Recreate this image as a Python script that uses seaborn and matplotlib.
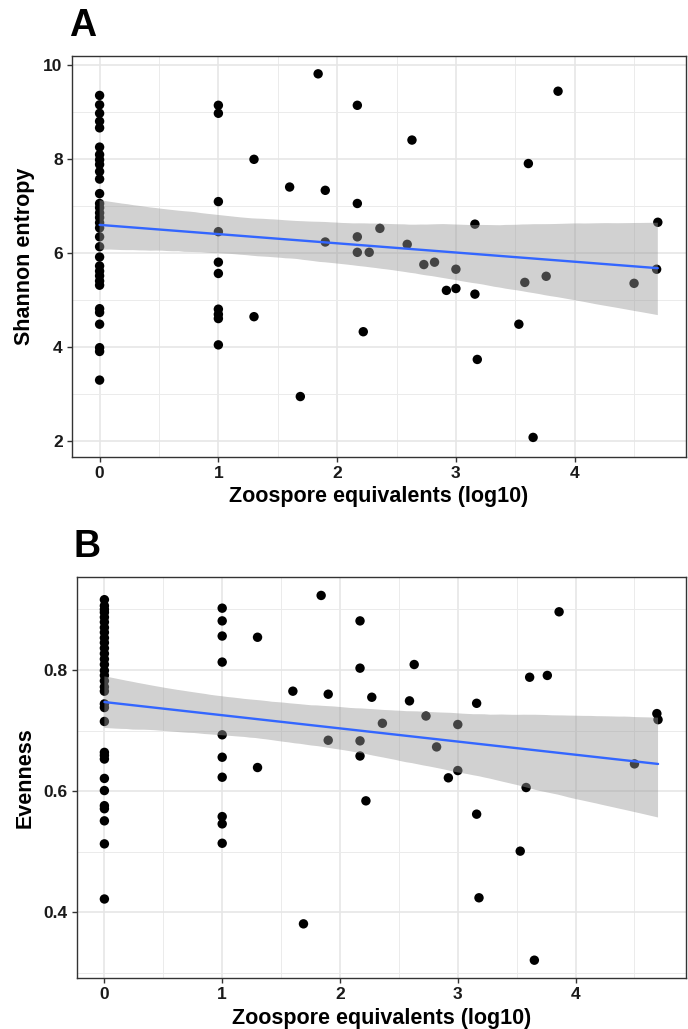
import numpy as np
import pandas as pd
import matplotlib
matplotlib.use("Agg")
import matplotlib.pyplot as plt
import seaborn as sns
from matplotlib.ticker import MultipleLocator, FormatStrFormatter

# ---------------- data ----------------
x_zero = [0.0] * 32
shannon_zero = [9.35, 9.15, 8.97, 8.80, 8.66, 8.25, 8.09, 7.98, 7.88, 7.73, 7.57,
                7.26, 7.05, 6.96, 6.85, 6.75, 6.64, 6.53, 6.34, 6.13, 5.91, 5.72,
                5.61, 5.51, 5.40, 5.31, 4.81, 4.73, 4.48, 3.98, 3.90, 3.29]
even_zero = [0.916, 0.906, 0.900, 0.895, 0.887, 0.879, 0.870, 0.862, 0.853, 0.845,
             0.836, 0.827, 0.818, 0.809, 0.799, 0.791, 0.782, 0.772, 0.765, 0.744,
             0.738, 0.715, 0.664, 0.659, 0.653, 0.621, 0.601, 0.576, 0.571, 0.551,
             0.513, 0.422]

x_pos = [1.00, 1.00, 1.00, 1.00, 1.00, 1.00, 1.00, 1.00, 1.00, 1.00,
         1.30, 1.30, 1.60, 1.69, 1.84, 1.90, 1.90, 2.17, 2.17, 2.17, 2.17,
         2.22, 2.27, 2.36, 2.59, 2.63, 2.73, 2.82, 2.92, 3.00, 3.00,
         3.16, 3.16, 3.18, 3.53, 3.58, 3.61, 3.65, 3.76, 3.86, 4.50, 4.69, 4.70]
shannon_pos = [9.14, 8.97, 7.09, 6.45, 5.80, 5.56, 4.80, 4.69, 4.60, 4.04,
               7.99, 4.64, 7.40, 2.94, 9.81, 7.33, 6.23, 9.14, 7.05, 6.34, 6.01,
               4.32, 6.01, 6.52, 6.18, 8.40, 5.75, 5.80, 5.20, 5.65, 5.24,
               6.61, 5.12, 3.73, 4.48, 5.37, 7.90, 2.07, 5.50, 9.44, 5.35, 5.65, 6.65]
even_pos = [0.902, 0.881, 0.856, 0.813, 0.693, 0.656, 0.623, 0.558, 0.546, 0.514,
            0.854, 0.639, 0.765, 0.381, 0.923, 0.760, 0.684, 0.881, 0.803, 0.683, 0.658,
            0.584, 0.755, 0.712, 0.749, 0.809, 0.724, 0.673, 0.622, 0.710, 0.634,
            0.745, 0.562, 0.424, 0.501, 0.606, 0.788, 0.321, 0.791, 0.896, 0.645, 0.728, 0.718]

df = pd.DataFrame({
    "zoospore": x_zero + x_pos,
    "shannon": shannon_zero + shannon_pos,
    "evenness": even_zero + even_pos,
})

x_label = "Zoospore equivalents (log10)"
panel_letters = ["A", "B"]
y_labels = ["Shannon entropy", "Evenness"]

# ---------------- style ----------------
sns.set_theme(style="white")
fam = ["Liberation Sans Narrow", "Liberation Sans", "DejaVu Sans"]
plt.rcParams["font.family"] = fam
plt.rcParams["font.weight"] = "bold"

fig = plt.figure(figsize=(6.88, 10.29), dpi=100)
axA = fig.add_axes([0.1042, 0.5562, 0.8925, 0.3894])
axB = fig.add_axes([0.1115, 0.0492, 0.8852, 0.3898])

def style_axis(ax, major_y, minor_y):
    ax.set_xlim(-0.235, 4.935)
    ax.xaxis.set_major_locator(MultipleLocator(1))
    ax.xaxis.set_minor_locator(MultipleLocator(0.5))
    ax.yaxis.set_major_locator(MultipleLocator(major_y))
    ax.yaxis.set_minor_locator(MultipleLocator(minor_y))
    ax.grid(True, which="major", color="#E6E6E6", linewidth=1.2, zorder=0)
    ax.grid(True, which="minor", color="#EBEBEB", linewidth=0.7, zorder=0)
    ax.set_axisbelow(True)
    for sp in ax.spines.values():
        sp.set_color("#333333")
        sp.set_linewidth(1.0)
    ax.tick_params(axis="both", which="major", length=3.5, width=1.0, color="#333333",
                   labelsize=12.5, labelcolor="#1a1a1a", pad=3, bottom=True, left=True)
    ax.tick_params(axis="both", which="minor", length=0)
    for lab in ax.get_xticklabels() + ax.get_yticklabels():
        lab.set_fontweight("bold")

for ax, col, ylab, letter in [(axA, "shannon", y_labels[0], panel_letters[0]),
                              (axB, "evenness", y_labels[1], panel_letters[1])]:
    sns.regplot(data=df, x="zoospore", y=col, ax=ax, ci=95, n_boot=2000, seed=3,
                scatter_kws=dict(s=46, color="black", edgecolors="none", alpha=1, zorder=1),
                line_kws=dict(color="#3366FF", linewidth=1.7, zorder=3))
    for coll in ax.collections[1:]:
        coll.set_alpha(None)
        coll.set_facecolor((0.6, 0.6, 0.6, 0.45))
        coll.set_edgecolor("none")
        coll.set_zorder(2)
    ax.set_xlabel(x_label, fontsize=15.5, fontweight="bold", color="black", labelpad=4)
    ax.set_ylabel(ylab, fontsize=15.5, fontweight="bold", color="black", labelpad=6)
    ax.text(-0.005, 1.03, letter, transform=ax.transAxes, fontsize=27,
            fontweight="bold", ha="left", va="bottom", color="black")

style_axis(axA, 2, 1)
axA.set_ylim(1.66, 10.19)
style_axis(axB, 0.2, 0.1)
axB.set_ylim(0.291, 0.953)
axB.yaxis.set_major_formatter(FormatStrFormatter("%.1f"))
for lab in axB.get_yticklabels():
    lab.set_fontweight("bold")

fig.savefig("out.png", dpi=100)
